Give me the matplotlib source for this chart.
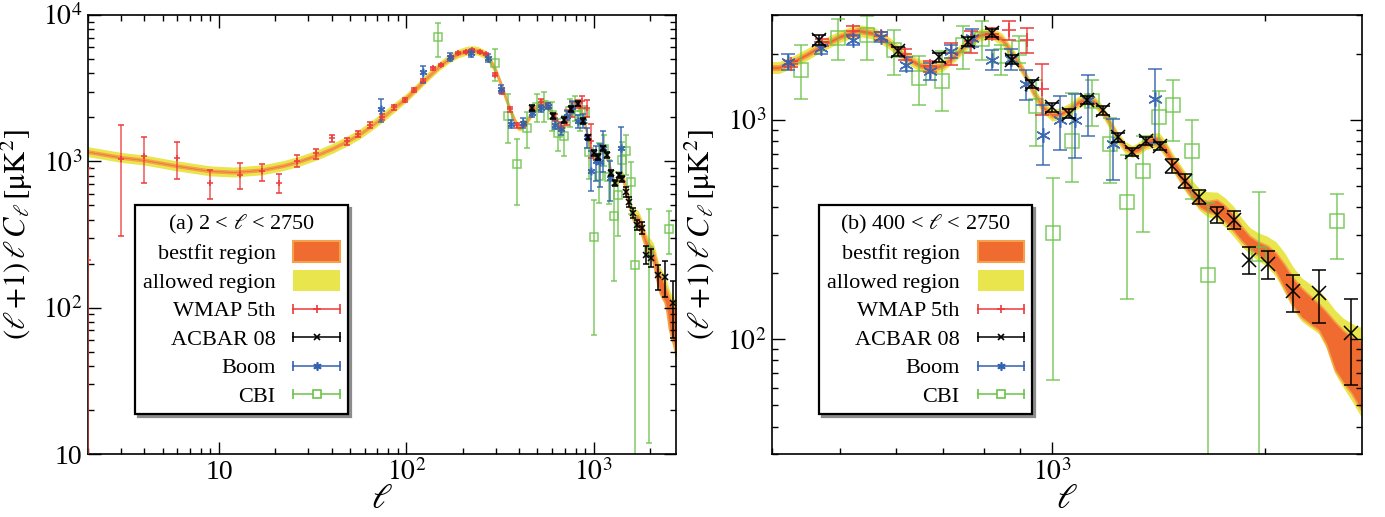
import numpy as np
import matplotlib
matplotlib.use('Agg')
import matplotlib.pyplot as plt
from matplotlib.patches import Patch
from matplotlib.lines import Line2D
from matplotlib.legend_handler import HandlerBase
from matplotlib.ticker import FuncFormatter, NullFormatter, LogLocator

plt.rcParams['font.family'] = ['Liberation Serif', 'DejaVu Serif']
plt.rcParams['mathtext.fontset'] = 'stix'

# --- theory band ---
ell_fit = [2, 3, 4, 6, 9, 12, 17, 22, 27, 33, 40, 48, 56, 65, 75, 85, 100, 115, 130, 150,
           170, 190, 210, 225, 240, 260, 280, 300, 320, 340, 360, 380, 395, 410, 430, 450,
           470, 500, 530, 560, 590, 620, 650, 675, 700, 730, 760, 790, 820, 850, 880, 910,
           940, 970, 1000, 1030, 1060, 1090, 1120, 1150, 1180, 1210, 1240, 1270, 1300, 1330,
           1360, 1390, 1420, 1450, 1480, 1510, 1540, 1580, 1620, 1660, 1715, 1760, 1810, 1860,
           1910, 1960, 2020, 2080, 2140, 2200, 2260, 2320, 2390, 2450, 2520, 2590, 2660, 2710, 2750]
dl_fit = [1164, 1065, 1020, 930, 860, 845, 875, 935, 1005, 1100, 1220, 1370, 1530, 1750, 2010,
          2300, 2720, 3230, 3780, 4480, 5060, 5470, 5700, 5760, 5700, 5430, 4900, 4150, 3350,
          2680, 2200, 1870, 1720, 1720, 1830, 1980, 2150, 2380, 2540, 2460, 2200, 1920, 1760,
          1710, 1760, 1960, 2240, 2420, 2470, 2310, 1980, 1660, 1340, 1140, 1045, 1060, 1115,
          1195, 1240, 1200, 1090, 950, 825, 745, 712, 735, 780, 798, 790, 725, 640, 580, 525,
          465, 415, 400, 398, 372, 337, 300, 274, 258, 245, 222, 191, 163, 146, 136, 126, 112,
          93, 83, 76, 71, 68]
# half widths in dex
w_best = [0.008] * 16 + [0.010] * 49 + [
    0.012, 0.015, 0.018, 0.020, 0.022, 0.024, 0.026, 0.028, 0.025, 0.020, 0.025, 0.034,
    0.037, 0.038, 0.034, 0.030, 0.032, 0.036, 0.045, 0.057, 0.065, 0.068, 0.065, 0.061,
    0.075, 0.110, 0.120, 0.129, 0.145, 0.160]
w_up = [0.034] * 16 + [0.030] * 16 + [0.027] * 33 + [
    0.030, 0.033, 0.036, 0.040, 0.042, 0.044, 0.046, 0.048, 0.055, 0.065, 0.068, 0.068,
    0.072, 0.076, 0.072, 0.068, 0.072, 0.078, 0.095, 0.110, 0.114, 0.114, 0.118, 0.122,
    0.135, 0.163, 0.175, 0.190, 0.205, 0.221]
w_dn = [0.034] * 16 + [0.030] * 16 + [0.027] * 33 + [
    0.028, 0.030, 0.032, 0.034, 0.036, 0.038, 0.040, 0.042, 0.038, 0.034, 0.045, 0.057,
    0.060, 0.061, 0.057, 0.053, 0.056, 0.059, 0.065, 0.072, 0.080, 0.084, 0.080, 0.076,
    0.090, 0.125, 0.140, 0.160, 0.175, 0.190]

# --- WMAP 5th ---
wmap_l = [2, 3, 4, 6, 9, 13, 17, 21, 26, 33, 40, 48, 55, 64, 74, 86, 98, 110, 122, 138, 154,
          173, 189, 207, 224, 247, 266, 296, 324, 357, 391, 425, 471, 521, 571, 618, 671, 719,
          766, 820, 868, 921, 968]
wmap_d = [211, 1033, 1087, 1058, 714, 806, 859, 708, 1005, 1135, 1436, 1377, 1540, 1770, 1995,
          2340, 2625, 3070, 3556, 4324, 4550, 5190, 5525, 5610, 5770, 5610, 5420, 3910, 2992,
          2265, 1770, 1800, 2250, 2530, 2400, 1983, 1750, 2016, 2278, 2470, 2576, 2318, 1386]
wmap_lo = [3, 308, 708, 757, 550, 644, 733, 610, 918, 1037, 1348, 1295, 1462, 1680, 1905,
           2250, 2550, 2990, 3470, 4230, 4460, 5100, 5430, 5510, 5670, 5510, 5320, 3800, 2900,
           2190, 1700, 1740, 2170, 2400, 2300, 1880, 1650, 1783, 2016, 2330, 2318, 2016, 1054]
wmap_hi = [900, 1771, 1472, 1348, 871, 968, 960, 815, 1104, 1213, 1513, 1455, 1620, 1860, 2090,
           2430, 2700, 3150, 3640, 4420, 4640, 5280, 5620, 5710, 5870, 5710, 5520, 4020, 3090,
           2340, 1840, 1860, 2330, 2660, 2500, 2090, 1850, 2240, 2530, 2620, 2810, 2624, 1795]

# --- ACBAR 08 ---
acbar_l = [466, 604, 691, 758, 820, 877, 936, 1000, 1057, 1118, 1179, 1239, 1297, 1358, 1419,
           1480, 1540, 1613, 1712, 1810, 1902, 2024, 2198, 2389, 2652]
acbar_d = [2300, 2051, 1926, 2266, 2472, 1880, 1460, 1138, 1065, 1225, 1102, 830, 710, 802, 761,
           617, 528, 444, 368, 349, 230, 220, 166, 162, 107]
acbar_lo = [2198, 1960, 1840, 2170, 2370, 1800, 1400, 1090, 1020, 1175, 1055, 795, 680, 768,
            728, 573, 490, 412, 338, 318, 198, 189, 133, 118, 62]
acbar_hi = [2420, 2150, 2015, 2370, 2580, 1965, 1525, 1190, 1115, 1280, 1150, 868, 742, 838,
            795, 664, 568, 478, 400, 382, 264, 253, 197, 207, 153]

# --- Boomerang ---
boom_l = [73, 122, 171, 221, 273, 320, 364, 421, 470, 522, 571, 620, 671, 719, 768, 820, 873,
          918, 971, 1025, 1075, 1122, 1219, 1400]
boom_d = [2265, 4105, 5190, 5470, 5100, 3140, 1810, 1828, 2124, 2300, 2388, 1783, 1661, 2051,
          2360, 1880, 1893, 1460, 854, 1000, 993, 1234, 775, 1243]
boom_lo = [1863, 3440, 4880, 5150, 4800, 2950, 1700, 1692, 2000, 2180, 2270, 1661, 1512, 1913,
           2147, 1679, 1679, 1234, 624, 730, 671, 845, 532, 783]
boom_hi = [2655, 4480, 5520, 5810, 5420, 3340, 1930, 1983, 2255, 2430, 2510, 1924, 1814, 2198,
           2594, 2089, 2103, 1692, 1171, 1278, 1314, 1604, 1007, 1707]

# --- CBI ---
cbi_l = [148, 299, 347, 390, 440, 496, 545, 596, 647, 696, 746, 794, 845, 897, 948, 1003, 1065,
         1137, 1207, 1276, 1346, 1418, 1485, 1577, 1662, 1966, 2535]
cbi_d = [7120, 4720, 2040, 960, 1690, 2360, 2420, 2069, 1550, 1496, 2198, 2337, 1945, 2124, 1150,
         304, 796, 1212, 777, 424, 585, 1025, 1170, 717, 196, 244, 346]
cbi_lo = [5190, 3556, 1343, 503, 1240, 1866, 1866, 1604, 1171, 1091, 1706, 1880, 1604, 1815, 761,
          65.5, 523, 932, 514, 153, 307, 777, 804, 435, 1, 11.9, 232]
cbi_hi = [8870, 5840, 2897, 1413, 2180, 2884, 2965, 2559, 1945, 2051, 2686, 2812, 2198, 2400,
          1511, 542, 1324, 1511, 1018, 693, 845, 1347, 1524, 993, 419, 471, 458]

orange = '#f06b2f'
orange_edge = '#f5a04a'
yellow = '#e8e64c'
red = '#ec3a3a'
blue = '#3161b0'
green = '#6cc24a'
asterisk = (6, 2, 0)


class ErrKey:
    def __init__(self, color, marker, ms, mfc):
        self.color = color
        self.marker = marker
        self.ms = ms
        self.mfc = mfc


class ErrHandler(HandlerBase):
    def create_artists(self, legend, h, xd, yd, width, height, fontsize, trans):
        y = -yd + height / 2.0
        x0, x1 = -xd, -xd + width
        line = Line2D([x0, x1], [y, y], color=h.color, lw=1.3, alpha=0.85)
        caps = Line2D([x0, x1], [y, y], ls='none', marker='|', ms=7, mew=1.2, color=h.color)
        mk = Line2D([(x0 + x1) / 2.0], [y], ls='none', marker=h.marker, ms=h.ms,
                    mec=h.color, mfc=h.mfc, mew=1.2)
        for a in (line, caps, mk):
            a.set_transform(trans)
        return [line, caps, mk]


def yerr(d, lo, hi):
    d = np.array(d, float)
    return [d - np.array(lo, float), np.array(hi, float) - d]


def log_label(v, pos):
    if v == 10:
        return '10'
    return r'$10^{%d}$' % round(np.log10(v))


def draw(ax, big, title, xlim, ylim):
    l = np.array(ell_fit, float)
    d = np.array(dl_fit, float)
    ax.fill_between(l, d * 10 ** (-np.array(w_dn)), d * 10 ** np.array(w_up),
                    color=yellow, lw=0, zorder=1)
    ax.fill_between(l, d * 10 ** (-np.array(w_best)), d * 10 ** np.array(w_best),
                    facecolor=orange, edgecolor=orange_edge, lw=1.2, zorder=1.5)

    s = 1.9 if big else 1.0
    cs = 5 if big else 2.5
    ax.errorbar(cbi_l, cbi_d, yerr=yerr(cbi_d, cbi_lo, cbi_hi), ls='none', marker='s',
                ms=5.5 * s, mfc='none', mec=green, color=green, elinewidth=1.1,
                capsize=cs, mew=1.1, alpha=0.85, zorder=2)
    ax.errorbar(wmap_l, wmap_d, yerr=yerr(wmap_d, wmap_lo, wmap_hi), ls='none', marker='+',
                ms=5 * s, color=red, elinewidth=1.1, capsize=cs, mew=1.3, alpha=0.85,
                zorder=3)
    ax.errorbar(boom_l, boom_d, yerr=yerr(boom_d, boom_lo, boom_hi), ls='none',
                marker=asterisk, ms=5.5 * s, color=blue, elinewidth=1.1, capsize=cs,
                mew=1.1, alpha=0.9, zorder=3)
    ax.errorbar(acbar_l, acbar_d, yerr=yerr(acbar_d, acbar_lo, acbar_hi), ls='none',
                marker='x', ms=5 * s, color='black', elinewidth=1.1, capsize=cs, mew=1.1,
                zorder=4)

    ax.set_xscale('log')
    ax.set_yscale('log')
    ax.set_xlim(*xlim)
    ax.set_ylim(*ylim)
    ax.xaxis.set_major_locator(LogLocator(10))
    ax.yaxis.set_major_locator(LogLocator(10))
    ax.xaxis.set_minor_locator(LogLocator(10, subs=np.arange(2, 10)))
    ax.yaxis.set_minor_locator(LogLocator(10, subs=np.arange(2, 10)))
    ax.xaxis.set_major_formatter(FuncFormatter(log_label))
    ax.yaxis.set_major_formatter(FuncFormatter(log_label))
    ax.xaxis.set_minor_formatter(NullFormatter())
    ax.yaxis.set_minor_formatter(NullFormatter())
    ax.tick_params(which='both', direction='in', top=True, right=True, labelsize=20, width=1)
    ax.tick_params(which='major', length=9, pad=4)
    ax.tick_params(which='minor', length=4.5)
    for sp in ax.spines.values():
        sp.set_linewidth(1.2)
    ax.set_xlabel(r'$\ell$', fontsize=25)
    ax.xaxis.set_label_coords(0.5, -0.065)
    ax.xaxis.label.set_va('top')
    ax.set_ylabel(r'$(\ell\,{+}1)\,\ell\,C_\ell\,[\mathrm{\mu K}^2]$', fontsize=22,
                  labelpad=6)

    handles = [Patch(facecolor=orange, edgecolor=orange_edge, lw=1.5),
               Patch(facecolor=yellow, edgecolor='none'),
               ErrKey(red, '+', 6, 'none'),
               ErrKey('black', 'x', 5, 'none'),
               ErrKey(blue, asterisk, 6, 'none'),
               ErrKey(green, 's', 6, 'white')]
    labels = ['bestfit region', 'allowed region', 'WMAP 5th', 'ACBAR 08', 'Boom', 'CBI']
    leg = ax.legend(handles, labels, loc='upper left', bbox_to_anchor=(0.08, 0.567),
                    borderaxespad=0, markerfirst=False, title=title, fontsize=16,
                    title_fontsize=16, handlelength=2.1, handleheight=1.05,
                    labelspacing=0.25, handletextpad=0.8, borderpad=0.35, fancybox=False,
                    shadow={'color': '0.55', 'alpha': 1},
                    handler_map={ErrKey: ErrHandler()})
    leg.get_frame().set_edgecolor('black')
    leg.get_frame().set_linewidth(1.6)
    leg.set_zorder(10)


fig = plt.figure(figsize=(13.85, 5.17), dpi=100)
ax1 = fig.add_axes([88 / 1385, 63 / 517, 588 / 1385, 439 / 517])
ax2 = fig.add_axes([772 / 1385, 63 / 517, 590 / 1385, 439 / 517])

draw(ax1, False, r'(a) 2 < $\ell$ < 2750', (2, 2750), (10, 1e4))
draw(ax2, True, r'(b) 400 < $\ell$ < 2750', (400, 2750), (30, 3000))

fig.savefig('out.png', dpi=100)
